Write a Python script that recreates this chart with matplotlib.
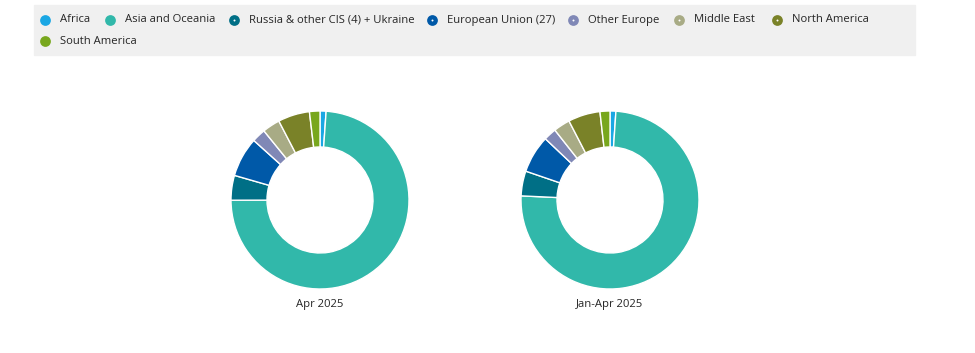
import numpy as np
import matplotlib
matplotlib.use('Agg')
from matplotlib import pyplot as plt

plt.rcParams['font.family'] = ['Open Sans', 'DejaVu Sans']

# regions, in the order they run round the ring (clockwise from 12 o'clock)
regions = ['Africa', 'Asia and Oceania', 'Russia & other CIS (4) + Ukraine',
           'European Union (27)', 'Other Europe', 'Middle East',
           'North America', 'South America']
colors = ['#1aa7e4', '#31b8aa', '#006f86', '#0059a8', '#8088b6', '#a8ab85',
          '#7a8228', '#78a71d']
dotted = [False, False, True, True, True, True, True, False]

# shares in %
apr_2025 = [1.1, 73.9, 4.5, 7.2, 2.5, 3.2, 5.75, 1.9]
jan_apr_2025 = [1.06, 74.5, 4.5, 6.8, 2.3, 3.0, 5.8, 1.8]
panel_titles = ['Apr 2025', 'Jan-Apr 2025']

fig = plt.figure(figsize=(9.75, 3.53), dpi=100)
W, H = 975, 353

# legend area (manual, full-figure overlay)
bg = fig.add_axes([0, 0, 1, 1])
bg.set_xlim(0, W)
bg.set_ylim(H, 0)
bg.axis('off')
bg.add_patch(plt.Rectangle((34, 5), 881, 50, color='#f0f0f0', zorder=0))

leg_x = [45, 110, 234, 432, 573, 679, 777, 45]
leg_y = [20, 20, 20, 20, 20, 20, 20, 41]
for i in range(len(regions)):
    bg.scatter(leg_x[i], leg_y[i], s=60, color=colors[i], zorder=2, linewidths=0)
    if dotted[i]:
        bg.scatter(leg_x[i], leg_y[i], s=2, color='white', zorder=3, linewidths=0)
    bg.text(leg_x[i] + 15, leg_y[i], regions[i], fontsize=8.1, color='#262626',
            va='center', ha='left')

# donuts
centers = [320, 610]
R = 89
for k, vals in enumerate([apr_2025, jan_apr_2025]):
    cx, cy = centers[k], 200
    ax = fig.add_axes([(cx - R) / W, 1 - (cy + R) / H, 2 * R / W, 2 * R / H])
    ax.pie(vals, colors=colors, startangle=90, counterclock=False,
           wedgeprops=dict(width=36 / R, edgecolor='white', linewidth=1.0),
           radius=1.0)
    ax.set_xlim(-1, 1)
    ax.set_ylim(-1, 1)
    ax.set_aspect('equal')
    ax.axis('off')
    bg.text(cx, 305, panel_titles[k], fontsize=8.1, color='#262626',
            ha='center', va='center')

plt.savefig('out.png', dpi=100)
